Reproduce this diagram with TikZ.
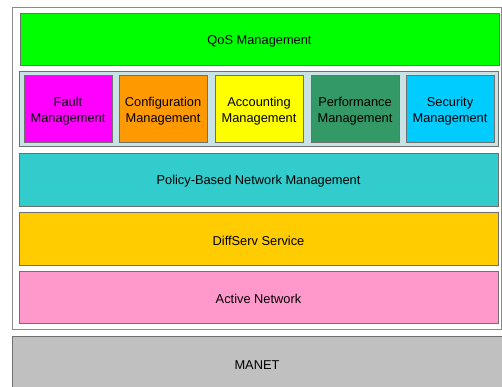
\documentclass[tikz,border=0pt]{standalone}
\usepackage{fontspec}
\setmainfont{Liberation Sans}
\usetikzlibrary{calc}

\definecolor{qosgreen}{HTML}{00FF00}
\definecolor{faultpink}{HTML}{FF00FF}
\definecolor{configorange}{HTML}{FF9900}
\definecolor{acctyellow}{HTML}{FFFF00}
\definecolor{perfgreen}{HTML}{339966}
\definecolor{secblue}{HTML}{00CCFF}
\definecolor{policyteal}{HTML}{33CCCC}
\definecolor{diffgold}{HTML}{FFCC00}
\definecolor{activepink}{HTML}{FF99CC}
\definecolor{manetgray}{HTML}{C0C0C0}
\definecolor{groupblue}{HTML}{C8E2E6}
\definecolor{edgegray}{HTML}{707070}
\definecolor{framegray}{HTML}{8A8A8A}

\begin{document}
\begin{tikzpicture}[x=0.02cm,y=-0.02cm,
  layer/.style={draw=edgegray,line width=0.5pt},
  label/.style={align=center,yshift=-1.2pt,font=\fontsize{7.3}{9.2}\selectfont}]
  \useasboundingbox (0,0) rectangle (502,386);

  % frame round the management stack
  \draw[framegray,line width=0.45pt] (12,7) rectangle (501,329);

  \coordinate (qa) at (20,13);
  \coordinate (qb) at (499,65);
  \filldraw[layer,fill=qosgreen] (qa) rectangle (qb);
  \node[label] (qos) at ($ (qa)!0.5!(qb) $) {QoS Management};

  \coordinate (ga) at (19,71);
  \coordinate (gb) at (498,146);
  \filldraw[layer,fill=groupblue] (ga) rectangle (gb);

  % the five management functions
  \foreach \x/\col/\name/\txt in {24/faultpink/fault/Fault,
                                  119/configorange/config/Configuration,
                                  215/acctyellow/acct/Accounting,
                                  311/perfgreen/perf/Performance,
                                  406/secblue/sec/Security} {
    \filldraw[layer,fill=\col] (\x,75) rectangle ++(88,67);
    \node[label] (\name) at (\x+44,109) {\txt\\Management};
  }

  \coordinate (pa) at (19,153);
  \coordinate (pb) at (498,206);
  \filldraw[layer,fill=policyteal] (pa) rectangle (pb);
  \node[label] (policy) at ($ (pa)!0.5!(pb) $) {Policy-Based Network Management};

  \coordinate (da) at (19,212);
  \coordinate (db) at (498,265);
  \filldraw[layer,fill=diffgold] (da) rectangle (db);
  \node[label] (diffserv) at ($ (da)!0.5!(db) $) {DiffServ Service};

  \coordinate (aa) at (19,271);
  \coordinate (ab) at (498,323);
  \filldraw[layer,fill=activepink] (aa) rectangle (ab);
  \node[label] (active) at ($ (aa)!0.5!(ab) $) {Active Network};

  \coordinate (ma) at (12,336);
  \coordinate (mb) at (503,390);
  \filldraw[layer,fill=manetgray] (ma) rectangle (mb);
  \node[label] (manet) at (257,363) {MANET};
\end{tikzpicture}
\end{document}
